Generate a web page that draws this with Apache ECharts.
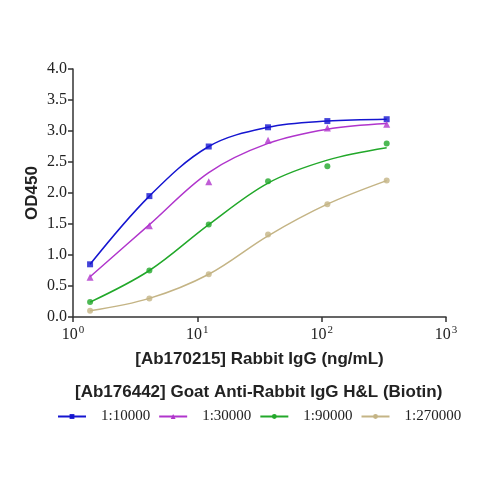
<!DOCTYPE html>
<html><head><meta charset="utf-8">
<script src="https://cdn.jsdelivr.net/npm/echarts@6/dist/echarts.min.js"></script>
<style>html,body{margin:0;padding:0;background:#fff}#c{width:479px;height:479px}</style>
</head><body><div id="c"></div>
<script>
var conc = [1.372, 4.115, 12.35, 37.04, 111.1, 333.3];
var names = ['1:10000', '1:30000', '1:90000', '1:270000'];
var colors = ['#1515d0', '#b035cc', '#22a82a', '#c4b485'];
var symbols = ['rect', 'triangle', 'circle', 'circle'];
// measured points
var pts10000 = [0.85, 1.95, 2.75, 3.06, 3.16, 3.19];
var pts30000 = [0.64, 1.47, 2.18, 2.85, 3.05, 3.11];
var pts90000 = [0.24, 0.75, 1.49, 2.19, 2.43, 2.80];
var pts270000 = [0.10, 0.30, 0.69, 1.33, 1.82, 2.20];
// fitted curve values read at the same concentrations
var fit10000 = [0.85, 1.95, 2.75, 3.06, 3.16, 3.19];
var fit30000 = [0.65, 1.49, 2.33, 2.80, 3.03, 3.12];
var fit90000 = [0.24, 0.75, 1.49, 2.16, 2.53, 2.73];
var fit270000 = [0.10, 0.30, 0.69, 1.31, 1.82, 2.20];

var pts = [pts10000, pts30000, pts90000, pts270000];
var fits = [fit10000, fit30000, fit90000, fit270000];
function pair(v) { return conc.map(function (c, i) { return [c, v[i]]; }); }

var series = [];
names.forEach(function (n, k) {
  series.push({
    name: n, type: 'line', data: pair(fits[k]), smooth: 0.35,
    showSymbol: false, symbol: symbols[k], symbolSize: 5,
    lineStyle: { color: colors[k], width: 1.5 }, itemStyle: { color: colors[k] },
    z: 2
  });
  series.push({
    name: n + ' pts', type: 'scatter', data: pair(pts[k]),
    symbol: symbols[k], symbolSize: k === 1 ? 7 : 6,
    itemStyle: { color: colors[k] }, z: 3
  });
});

var chart = echarts.init(document.getElementById('c'));
chart.setOption({
  animation: false,
  backgroundColor: '#fff',
  title: {
    text: '[Ab176442] Goat Anti-Rabbit IgG H&L (Biotin)',
    left: 70, top: 379,
    textStyle: { fontFamily: 'Liberation Sans', fontWeight: 'bold', fontSize: 17, color: '#222' }
  },
  legend: {
    data: names.map(function (n) { return { name: n }; }),
    left: 52, top: 404, itemWidth: 28, itemHeight: 6, itemGap: 8,
    textStyle: { fontFamily: 'Liberation Serif', fontSize: 15, color: '#222', padding: [0, 0, 0, 10] }
  },
  grid: { left: 73, right: 33, top: 69, bottom: 162 },
  xAxis: {
    type: 'log', logBase: 10, min: 1, max: 1000,
    name: '[Ab170215] Rabbit IgG (ng/mL)', nameLocation: 'middle', nameGap: 34,
    nameMoveOverlap: false,
    nameTextStyle: { fontFamily: 'Liberation Sans', fontWeight: 'bold', fontSize: 17, color: '#222' },
    axisLine: { lineStyle: { color: '#333', width: 1.5 } },
    axisTick: { show: true, length: 5, lineStyle: { color: '#333', width: 1.5 } },
    minorTick: { show: false },
    splitLine: { show: false },
    axisLabel: {
      margin: 8,
      formatter: function (v) { return '10{s|' + Math.round(Math.log10(v)) + '}'; },
      fontFamily: 'Liberation Serif', fontSize: 16, color: '#222',
      rich: { s: { fontSize: 11, verticalAlign: 'top', padding: [0, 0, 8, 1], fontFamily: 'Liberation Serif', color: '#222' } }
    }
  },
  yAxis: {
    type: 'value', min: 0, max: 4, interval: 0.5,
    name: 'OD450', nameLocation: 'middle', nameGap: 32, nameRotate: 90,
    nameMoveOverlap: false,
    nameTextStyle: { fontFamily: 'Liberation Sans', fontWeight: 'bold', fontSize: 17, color: '#222' },
    axisLine: { show: true, lineStyle: { color: '#333', width: 1.5 } },
    axisTick: { show: true, length: 5, lineStyle: { color: '#333', width: 1.5 } },
    splitLine: { show: false },
    axisLabel: {
      margin: 6, formatter: function (v) { return v.toFixed(1); },
      fontFamily: 'Liberation Serif', fontSize: 16, color: '#222'
    }
  },
  series: series
});
</script></body></html>
